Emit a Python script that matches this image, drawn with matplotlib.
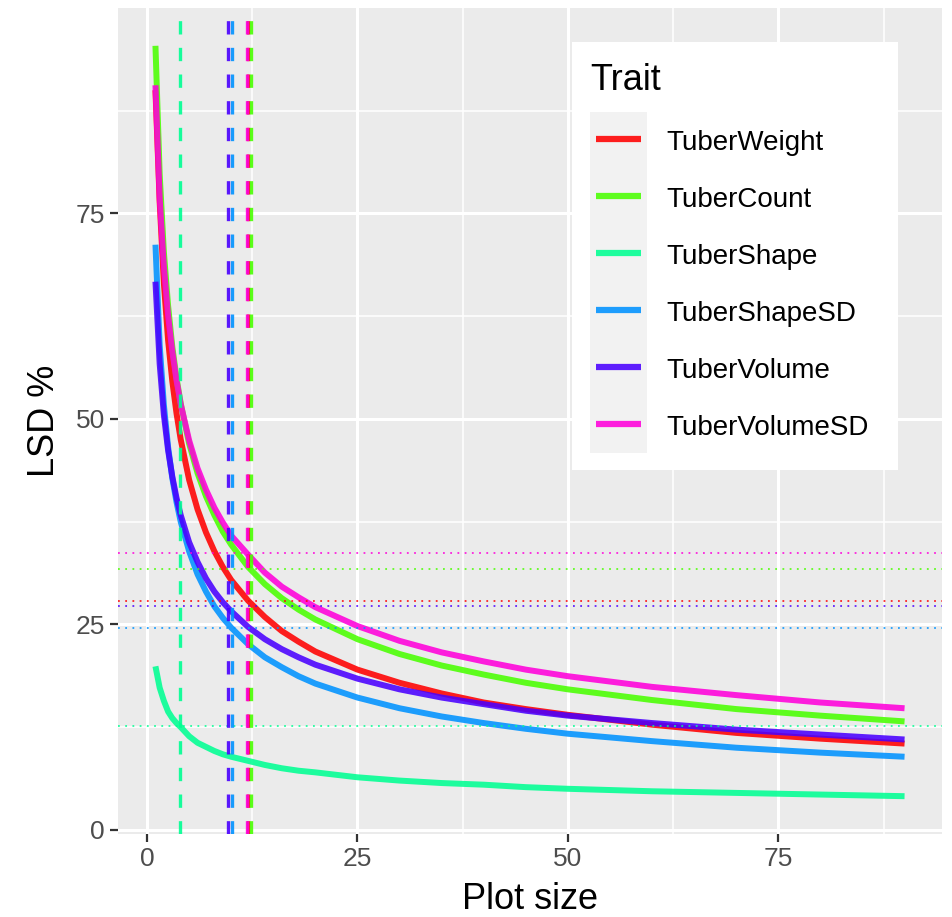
import matplotlib
matplotlib.use("Agg")
import matplotlib.pyplot as plt
from matplotlib.lines import Line2D
from matplotlib.patches import Rectangle

plt.rcParams['font.family'] = ['Liberation Sans', 'DejaVu Sans']

plot_size = [1, 1.5, 2, 2.5, 3, 3.5, 4, 5, 6, 7, 8, 9, 10, 12, 14, 16, 18, 20,
             25, 30, 35, 40, 45, 50, 60, 70, 80, 90]

traits = ['TuberWeight', 'TuberCount', 'TuberShape',
          'TuberShapeSD', 'TuberVolume', 'TuberVolumeSD']
colours = ['#FF0000', '#49FF00', '#00FF92', '#0092FF', '#4900FF', '#FF00DB']

# LSD % per trait
lsd_weight = [90.0, 76.4, 66.5, 59.6, 54.6, 50.7, 47.5, 42.6, 39.0, 36.2, 33.9,
              32.0, 30.4, 27.9, 25.9, 24.2, 22.9, 21.7, 19.5, 17.9, 16.6, 15.5,
              14.7, 14.0, 12.8, 11.8, 11.1, 10.5]
lsd_count = [95.4, 79.8, 70.3, 63.8, 58.8, 55.0, 51.9, 47.0, 43.4, 40.6, 38.3,
             36.3, 34.7, 32.0, 29.9, 28.2, 26.8, 25.6, 23.2, 21.4, 20.0, 18.9,
             17.9, 17.1, 15.8, 14.7, 13.9, 13.2]
lsd_shape = [19.9, 17.3, 15.7, 14.4, 13.6, 13.0, 12.5, 11.4, 10.6, 10.1, 9.6,
             9.2, 8.9, 8.4, 7.9, 7.5, 7.2, 7.0, 6.4, 6.0, 5.7, 5.5,
             5.2, 5.0, 4.7, 4.5, 4.3, 4.1]
lsd_shape_sd = [71.2, 59.0, 51.7, 46.6, 42.8, 39.9, 37.5, 33.9, 31.1, 29.0, 27.2,
                25.8, 24.6, 22.6, 21.0, 19.8, 18.7, 17.8, 16.1, 14.8, 13.8, 13.0,
                12.3, 11.7, 10.8, 10.0, 9.4, 8.9]
lsd_volume = [66.7, 56.7, 50.5, 46.2, 43.0, 40.4, 38.3, 35.0, 32.6, 30.6, 29.0,
              27.7, 26.6, 24.7, 23.2, 22.0, 21.0, 20.1, 18.4, 17.1, 16.1, 15.3,
              14.5, 13.9, 13.0, 12.2, 11.6, 11.0]
lsd_volume_sd = [90.6, 76.9, 68.5, 62.6, 58.2, 54.7, 51.8, 47.4, 44.0, 41.4, 39.2,
                 37.4, 35.8, 33.5, 31.3, 29.6, 28.3, 27.1, 24.8, 23.0, 21.6, 20.5,
                 19.5, 18.7, 17.4, 16.4, 15.5, 14.8]
series = [lsd_weight, lsd_count, lsd_shape, lsd_shape_sd, lsd_volume, lsd_volume_sd]

# thresholds: horizontal LSD level and the matching plot size
lsd_level = [27.9, 31.7, 12.65, 24.6, 27.25, 33.7]
size_level = [12.0, 12.4, 3.9, 10.08, 9.57, 11.9]

fig = plt.figure(figsize=(9.53, 9.17), dpi=100)
ax = fig.add_axes([118 / 953, 1 - 834 / 917, (942 - 118) / 953, (834 - 8) / 917])
ax.set_facecolor('#EBEBEB')
for s in ax.spines.values():
    s.set_visible(False)

ax.set_xlim(-3.45, 94.45)
ax.set_ylim(-0.5, 100.0)
ax.set_xticks([0, 25, 50, 75])
ax.set_yticks([0, 25, 50, 75])
ax.set_xticks([12.5, 37.5, 62.5, 87.5], minor=True)
ax.set_yticks([12.5, 37.5, 62.5, 87.5], minor=True)
ax.grid(which='major', color='white', lw=2.2)
ax.grid(which='minor', color='white', lw=1.1)
ax.set_axisbelow(True)
ax.tick_params(which='major', length=5.5, width=1.6, color='#333333',
               labelsize=19, labelcolor='#4D4D4D', pad=4)
ax.tick_params(which='minor', length=0)

for ys, c in zip(series, colours):
    ax.plot(plot_size, ys, color=c, lw=4.3, alpha=0.88, solid_capstyle='butt',
            solid_joinstyle='round', zorder=3)

for lv, c in zip(lsd_level, colours):
    ax.axhline(lv, color=c, lw=1.3, dashes=(1, 3), alpha=0.85, zorder=4)
for sv, c in zip(size_level, colours):
    ax.axvline(sv, color=c, lw=2.4, dashes=(4, 4), alpha=0.9, zorder=4)

ax.set_xlabel('Plot size', fontsize=26, labelpad=8)
ax.set_ylabel('LSD %', fontsize=26, labelpad=10)

# legend box drawn like ggplot's guide
W, H = 953.0, 917.0
fig.patches.append(Rectangle((572 / W, 1 - 470 / H), 326 / W, 428 / H,
                             transform=fig.transFigure, facecolor='white',
                             edgecolor='none', zorder=2))
fig.patches.append(Rectangle((590 / W, 1 - 453 / H), 57 / W, 341 / H,
                             transform=fig.transFigure, facecolor='#F2F2F2',
                             edgecolor='none', zorder=3))
fig.text(590 / W, 1 - 90 / H, 'Trait', fontsize=26, va='baseline', ha='left', zorder=5)
for i, (name, c) in enumerate(zip(traits, colours)):
    yc = 139.3 + i * 57
    fig.add_artist(Line2D([596 / W, 641 / W], [1 - yc / H, 1 - yc / H],
                          transform=fig.transFigure, color=c, lw=4.5,
                          alpha=0.88, solid_capstyle='butt', zorder=5))
    fig.text(666 / W, 1 - (yc + 11) / H, name, fontsize=20, va='baseline',
             ha='left', zorder=5)

fig.savefig('out.png', dpi=100)
